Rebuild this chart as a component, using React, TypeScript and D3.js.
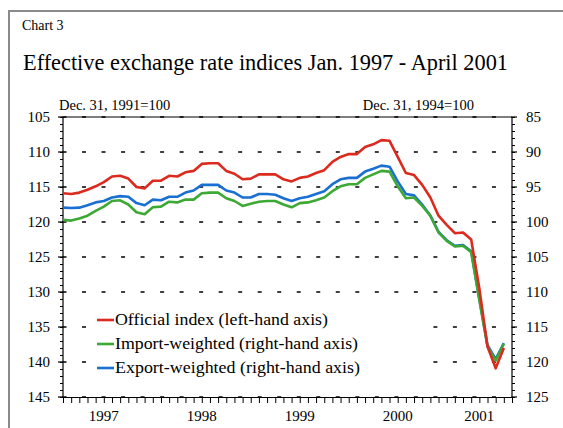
import React, { useEffect, useRef } from 'react';
import * as d3 from 'd3';

// official index, left-hand axis (Dec. 31, 1991=100), one value per month
const official = [
  115.9, 116.0, 115.8, 115.4, 114.9, 114.3, 113.5, 113.4, 113.8, 115.0,
  115.2, 114.1, 114.1, 113.4, 113.5, 112.9, 112.7, 111.7, 111.6, 111.6,
  112.7, 113.1, 113.9, 113.8, 113.2, 113.2, 113.2, 113.9, 114.2, 113.7,
  113.5, 113.0, 112.6, 111.4, 110.7, 110.3, 110.3, 109.3, 108.9, 108.3,
  108.4, 110.7, 113.0, 113.3, 114.7, 116.5, 119.1, 120.4, 121.6, 121.5,
  122.5, 129.5, 137.8, 140.9, 138.0,
];

// import-weighted, right-hand axis (Dec. 31, 1994=100)
const importWeighted = [
  99.7, 99.8, 99.5, 99.1, 98.4, 97.8, 97.0, 96.9, 97.5, 98.6,
  98.9, 97.9, 97.8, 97.1, 97.2, 96.8, 96.8, 95.9, 95.8, 95.8,
  96.6, 97.0, 97.7, 97.4, 97.1, 97.0, 97.0, 97.5, 97.9, 97.3,
  97.2, 96.9, 96.5, 95.6, 94.9, 94.6, 94.6, 93.7, 93.2, 92.7,
  92.8, 94.9, 96.6, 96.5, 97.7, 99.1, 101.5, 102.7, 103.5, 103.4,
  104.3, 111.2, 117.8, 119.8, 117.4,
];

// export-weighted, right-hand axis
const exportWeighted = [
  97.95, 98.0, 97.95, 97.6, 97.2, 97.0, 96.5, 96.3, 96.4, 97.3,
  97.6, 96.8, 96.9, 96.4, 96.4, 95.8, 95.5, 94.7, 94.7, 94.7,
  95.5, 95.8, 96.5, 96.5, 96.0, 96.0, 96.1, 96.6, 97.0, 96.6,
  96.4, 96.0, 95.6, 94.6, 93.9, 93.7, 93.7, 92.8, 92.4, 91.95,
  92.1, 94.2, 96.0, 96.2, 97.5, 99.1, 101.4, 102.6, 103.4, 103.3,
  104.2, 111.0, 117.6, 119.6, 117.3,
];

const leftTicks = [105, 110, 115, 120, 125, 130, 135, 140, 145];
const rightTicks = [85, 90, 95, 100, 105, 110, 115, 120, 125];
const years = ['1997', '1998', '1999', '2000', '2001'];
const seriesNames = [
  'Official index (left-hand axis)',
  'Import-weighted (right-hand axis)',
  'Export-weighted (right-hand axis)',
];

const FONT = '"Liberation Serif", "Times New Roman", serif';
const RED = '#dc2a1e';
const GREEN = '#3da834';
const BLUE = '#1a6fd2';

function App() {
  const ref = useRef<SVGSVGElement>(null);

  useEffect(() => {
    const svg = d3.select(ref.current);
    svg.selectAll('*').remove();

    const left = 63;
    const right = 512;
    const top = 117;
    const bottom = 397;
    const lastMonth = 56;

    const x = d3.scaleLinear().domain([1, lastMonth]).range([left, right]);
    const yL = d3.scaleLinear().domain([105, 145]).range([top, bottom]);
    const yR = d3.scaleLinear().domain([85, 125]).range([top, bottom]);

    // outer frame
    svg.append('rect')
      .attr('x', 9).attr('y', 11)
      .attr('width', 600).attr('height', 500)
      .attr('fill', 'none')
      .attr('stroke', '#8a8a8a')
      .attr('stroke-width', 2);

    svg.append('text')
      .attr('x', 22).attr('y', 30)
      .attr('font-family', FONT).attr('font-size', 14)
      .text('Chart 3');

    svg.append('text')
      .attr('x', 23).attr('y', 70)
      .attr('font-family', FONT).attr('font-size', 23)
      .attr('textLength', 485).attr('lengthAdjust', 'spacingAndGlyphs')
      .text('Effective exchange rate indices Jan. 1997 - April 2001');

    svg.append('text')
      .attr('x', 59).attr('y', 110)
      .attr('font-family', FONT).attr('font-size', 14.5)
      .text('Dec. 31, 1991=100');

    svg.append('text')
      .attr('x', 474).attr('y', 110)
      .attr('text-anchor', 'end')
      .attr('font-family', FONT).attr('font-size', 14.5)
      .text('Dec. 31, 1994=100');

    // dashed grid
    const grid = svg.append('g');
    leftTicks.forEach((v) => {
      grid.append('line')
        .attr('x1', left - 0.5).attr('x2', right)
        .attr('y1', yL(v)).attr('y2', yL(v))
        .attr('stroke', '#000')
        .attr('stroke-width', 1.5)
        .attr('stroke-dasharray', '4 15.52');
    });

    // legend background hides the grid
    svg.append('rect')
      .attr('x', 92).attr('y', 305)
      .attr('width', 333).attr('height', 76)
      .attr('fill', '#fff');

    // frame of the plot
    svg.append('line')
      .attr('x1', left).attr('x2', right)
      .attr('y1', top).attr('y2', top)
      .attr('stroke', '#000').attr('stroke-width', 1.2);

    const axisLeft = d3.axisLeft(yL)
      .tickValues(d3.range(105, 146, 1))
      .tickSize(3)
      .tickFormat(() => '');
    svg.append('g')
      .attr('transform', `translate(${left},0)`)
      .call(axisLeft)
      .call((g) => g.select('.domain').remove());

    const axisRight = d3.axisRight(yR)
      .tickValues(d3.range(85, 126, 1))
      .tickSize(3)
      .tickFormat(() => '');
    svg.append('g')
      .attr('transform', `translate(${right},0)`)
      .call(axisRight)
      .call((g) => g.select('.domain').remove());

    // major ticks and labels
    leftTicks.forEach((v) => {
      svg.append('line')
        .attr('x1', left - 5).attr('x2', left)
        .attr('y1', yL(v)).attr('y2', yL(v))
        .attr('stroke', '#000').attr('stroke-width', 1.2);
      svg.append('text')
        .attr('x', 50).attr('y', yL(v) + 5)
        .attr('text-anchor', 'end')
        .attr('font-family', FONT).attr('font-size', 15)
        .text(v);
    });
    rightTicks.forEach((v) => {
      svg.append('line')
        .attr('x1', right).attr('x2', right + 5)
        .attr('y1', yR(v)).attr('y2', yR(v))
        .attr('stroke', '#000').attr('stroke-width', 1.2);
      svg.append('text')
        .attr('x', 526).attr('y', yR(v) + 5)
        .attr('font-family', FONT).attr('font-size', 15)
        .text(v);
    });

    svg.append('line')
      .attr('x1', left).attr('x2', left)
      .attr('y1', top).attr('y2', bottom)
      .attr('stroke', '#000').attr('stroke-width', 1.2);
    svg.append('line')
      .attr('x1', right).attr('x2', right)
      .attr('y1', top).attr('y2', bottom)
      .attr('stroke', '#000').attr('stroke-width', 1.2);

    const axisBottom = d3.axisBottom(x)
      .tickValues(d3.range(1, lastMonth + 1))
      .tickSize(6)
      .tickSizeOuter(0)
      .tickFormat(() => '');
    svg.append('g')
      .attr('transform', `translate(0,${bottom})`)
      .call(axisBottom)
      .call((g) => g.select('.domain').attr('stroke-width', 1.2));

    years.forEach((yr, i) => {
      const a = Math.max(12 * i, 0);
      const b = Math.min(12 * i + 12, lastMonth);
      svg.append('text')
        .attr('x', x((a + b) / 2)).attr('y', 421)
        .attr('text-anchor', 'middle')
        .attr('font-family', FONT).attr('font-size', 15)
        .text(yr);
    });

    // series
    const lineL = d3.line<number>().x((_, i) => x(i + 1)).y((d) => yL(d));
    const lineR = d3.line<number>().x((_, i) => x(i + 1)).y((d) => yR(d));

    svg.append('path').datum(exportWeighted)
      .attr('d', lineR).attr('fill', 'none')
      .attr('stroke', BLUE).attr('stroke-width', 2.6)
      .attr('stroke-linejoin', 'round');
    svg.append('path').datum(importWeighted)
      .attr('d', lineR).attr('fill', 'none')
      .attr('stroke', GREEN).attr('stroke-width', 2.6)
      .attr('stroke-linejoin', 'round');
    svg.append('path').datum(official)
      .attr('d', lineL).attr('fill', 'none')
      .attr('stroke', RED).attr('stroke-width', 2.6)
      .attr('stroke-linejoin', 'round');

    // legend (text stretched a little, as in the original)
    const colors = [RED, GREEN, BLUE];
    const widths = [213, 243, 245];
    seriesNames.forEach((name, i) => {
      const ly = 320 + i * 24;
      svg.append('line')
        .attr('x1', 97).attr('x2', 114)
        .attr('y1', ly).attr('y2', ly)
        .attr('stroke', colors[i]).attr('stroke-width', 2.6);
      svg.append('text')
        .attr('x', 115).attr('y', ly + 5)
        .attr('font-family', FONT).attr('font-size', 16.5)
        .attr('textLength', widths[i])
        .attr('lengthAdjust', 'spacingAndGlyphs')
        .text(name);
    });
  }, []);

  return (
    <div style={{ position: 'absolute', left: 0, top: 0 }}>
      <svg ref={ref} width={563} height={428} style={{ display: 'block', background: '#fff' }} />
    </div>
  );
}

export default App;
